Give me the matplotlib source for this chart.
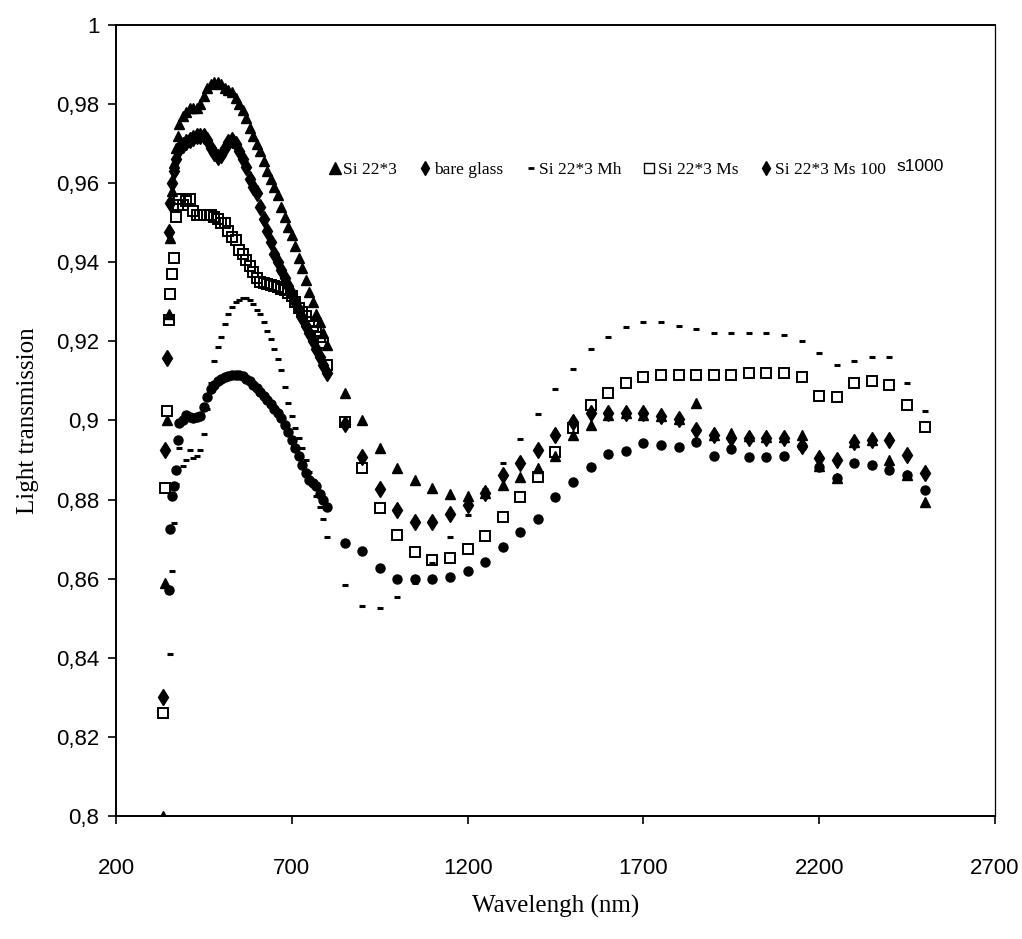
import numpy as np
import matplotlib
matplotlib.use("Agg")
import matplotlib.pyplot as plt
from matplotlib.lines import Line2D

# --- wavelengths (nm): dense scan in the UV/VIS, 50 nm steps in the NIR ---
wl_dense = [335, 340, 345, 350, 355, 360, 365, 370, 375, 380] + list(range(390, 801, 10))
wl_sparse = list(range(850, 2501, 50))

# --- light transmission ---
si22_dense = [0.800, 0.859, 0.900, 0.927, 0.946, 0.958, 0.965, 0.969, 0.972, 0.975,
              0.977, 0.978, 0.979, 0.979, 0.979, 0.980, 0.982, 0.984, 0.985, 0.9855,
              0.9855, 0.985, 0.984, 0.9835, 0.983, 0.9815, 0.980, 0.9785, 0.9765, 0.974,
              0.972, 0.970, 0.968, 0.9655, 0.963, 0.961, 0.959, 0.957, 0.954, 0.9515,
              0.949, 0.947, 0.944, 0.941, 0.9385, 0.9355, 0.9325, 0.930, 0.927, 0.925,
              0.922, 0.919]
si22_sparse = [0.907, 0.900, 0.893, 0.888, 0.885, 0.883, 0.8814, 0.881, 0.8817, 0.8837,
               0.8858, 0.8879, 0.891, 0.8963, 0.8988, 0.9015, 0.9018, 0.9015, 0.901, 0.9003,
               0.9045, 0.8963, 0.8967, 0.896, 0.8959, 0.8959, 0.8963, 0.8885, 0.8855, 0.8946,
               0.895, 0.890, 0.8862, 0.8795]

glass_dense = [0.830, 0.8925, 0.9157, 0.9477, 0.955, 0.960, 0.963, 0.966, 0.968, 0.969,
               0.9697, 0.9705, 0.971, 0.9715, 0.972, 0.972, 0.972, 0.971, 0.969, 0.9675,
               0.9667, 0.967, 0.969, 0.9705, 0.971, 0.970, 0.968, 0.966, 0.964, 0.961,
               0.959, 0.9575, 0.954, 0.951, 0.948, 0.945, 0.942, 0.940, 0.938, 0.936,
               0.934, 0.932, 0.930, 0.928, 0.926, 0.924, 0.922, 0.920, 0.918, 0.916,
               0.914, 0.912]
glass_sparse = [0.899, 0.8908, 0.8826, 0.8774, 0.8742, 0.8742, 0.8764, 0.8786, 0.8817, 0.8862,
                0.8892, 0.8925, 0.8963, 0.8997, 0.9018, 0.9018, 0.9018, 0.9018, 0.901, 0.9003,
                0.8976, 0.8963, 0.8955, 0.8955, 0.8955, 0.8955, 0.8935, 0.8904, 0.890, 0.8946,
                0.895, 0.895, 0.8913, 0.8868]

mh_dense = [np.nan, np.nan, np.nan, np.nan, 0.841, 0.862, 0.874, 0.884, 0.8955, 0.893,
            0.8885, 0.890, 0.8925, 0.8905, 0.891, 0.8925, 0.8965, 0.903, 0.9094, 0.915,
            0.9185, 0.921, 0.9245, 0.927, 0.9288, 0.930, 0.9305, 0.931, 0.931, 0.9305,
            0.9295, 0.928, 0.927, 0.925, 0.9225, 0.9205, 0.918, 0.9155, 0.9128, 0.9085,
            0.9045, 0.901, 0.898, 0.8955, 0.893, 0.890, 0.887, 0.884, 0.881, 0.878,
            0.875, 0.8705]
mh_sparse = [0.8584, 0.8531, 0.8525, 0.8553, 0.859, 0.864, 0.8706, 0.876, 0.8826, 0.8892,
             0.8952, 0.9016, 0.9079, 0.913, 0.918, 0.921, 0.9235, 0.925, 0.925, 0.924,
             0.923, 0.922, 0.922, 0.922, 0.922, 0.9215, 0.920, 0.917, 0.914, 0.915,
             0.916, 0.916, 0.9095, 0.9024]

ms_dense = [0.826, 0.883, 0.9025, 0.9255, 0.932, 0.937, 0.941, 0.9515, 0.9545, 0.956,
            0.9545, 0.9555, 0.956, 0.953, 0.952, 0.952, 0.952, 0.952, 0.952, 0.9515,
            0.951, 0.950, 0.9498, 0.948, 0.9465, 0.9455, 0.943, 0.942, 0.9405, 0.939,
            0.9375, 0.936, 0.935, 0.9347, 0.9345, 0.9343, 0.934, 0.9337, 0.9333, 0.933,
            0.9323, 0.9315, 0.930, 0.9285, 0.9275, 0.9265, 0.925, 0.924, 0.9225, 0.921,
            0.9195, 0.914]
ms_sparse = [0.8995, 0.8879, 0.8778, 0.871, 0.8668, 0.8647, 0.8653, 0.8674, 0.8708, 0.8757,
             0.8806, 0.8858, 0.8921, 0.898, 0.9039, 0.9069, 0.9094, 0.911, 0.9115, 0.9115,
             0.9115, 0.9115, 0.9115, 0.912, 0.912, 0.912, 0.911, 0.9062, 0.906, 0.9094,
             0.910, 0.909, 0.9039, 0.8984]

ms100_dense = [np.nan, np.nan, np.nan, 0.8571, 0.8725, 0.881, 0.8833, 0.8875, 0.8951, 0.8993,
               0.9000, 0.9014, 0.9008, 0.9005, 0.9008, 0.901, 0.9035, 0.906, 0.908, 0.909,
               0.910, 0.9105, 0.911, 0.9112, 0.9115, 0.9115, 0.9114, 0.9112, 0.9106, 0.9099,
               0.909, 0.9081, 0.9072, 0.9062, 0.9052, 0.9041, 0.903, 0.9018, 0.9005, 0.8989,
               0.897, 0.895, 0.893, 0.891, 0.8888, 0.8866, 0.885, 0.8842, 0.8833, 0.8815,
               0.8799, 0.8782]
ms100_sparse = [0.869, 0.867, 0.8626, 0.8598, 0.8598, 0.8598, 0.8605, 0.862, 0.8643, 0.8681,
                0.8717, 0.8751, 0.8806, 0.8845, 0.8883, 0.8915, 0.8923, 0.8942, 0.8938, 0.8932,
                0.8946, 0.891, 0.8929, 0.8908, 0.8907, 0.891, 0.8935, 0.8882, 0.8854, 0.8893,
                0.8888, 0.8875, 0.8862, 0.8824]

legend_labels = ["Si 22*3", "bare glass", "Si 22*3 Mh", "Si 22*3 Ms", "Si 22*3 Ms 100"]
x_ticks = [200, 700, 1200, 1700, 2200, 2700]
y_ticks = [0.8, 0.82, 0.84, 0.86, 0.88, 0.9, 0.92, 0.94, 0.96, 0.98, 1.0]
y_tick_labels = ["0,8", "0,82", "0,84", "0,86", "0,88", "0,9", "0,92", "0,94", "0,96", "0,98", "1"]

wl = np.array(wl_dense + wl_sparse)

serif = ["Liberation Serif", "DejaVu Serif"]
sans = ["Liberation Sans Narrow", "Liberation Sans", "DejaVu Sans"]

fig = plt.figure(figsize=(10.22, 9.39), dpi=100)
ax = fig.add_axes([0.1135, 0.131, 0.860, 0.8425])

# one style per series (black & white scan look)
ax.plot(wl, si22_dense + si22_sparse, linestyle="none", marker="^", ms=7.5,
        color="black", mec="black")
ax.plot(wl, glass_dense + glass_sparse, linestyle="none", marker="d", ms=8,
        color="black", mec="black")
ax.plot(wl, mh_dense + mh_sparse, linestyle="none", marker="_", ms=4.5, mew=2.2,
        color="black")
ax.plot(wl, ms_dense + ms_sparse, linestyle="none", marker="s", ms=6.5,
        mfc="none", mec="black", mew=1.4)
ax.plot(wl, ms100_dense + ms100_sparse, linestyle="none", marker="o", ms=6.5,
        color="black", mec="black")

ax.set_xlim(200, 2700)
ax.set_ylim(0.8, 1.0)
ax.set_xticks(x_ticks)
ax.set_xticklabels([str(t) for t in x_ticks], family=sans, fontsize=16)
ax.set_yticks(y_ticks)
ax.set_yticklabels(y_tick_labels, family=sans, fontsize=16)
ax.tick_params(axis="y", direction="out", length=6, width=1.2, pad=6)
ax.tick_params(axis="x", direction="out", length=6, width=1.2, pad=24)

for side in ["left", "bottom", "top"]:
    ax.spines[side].set_linewidth(1.4)
ax.spines["right"].set_linewidth(0.9)
ax.spines["right"].set_linestyle((0, (5, 1)))

ax.set_xlabel("Wavelengh (nm)", family=serif, fontsize=18, labelpad=12)
ax.set_ylabel("Light transmission", family=serif, fontsize=18, labelpad=12)

# legend inside the plot, single row, no frame
handles = [
    Line2D([], [], linestyle="none", marker="^", ms=8, color="black"),
    Line2D([], [], linestyle="none", marker="d", ms=7, color="black"),
    Line2D([], [], linestyle="none", marker="_", ms=5, mew=2, color="black"),
    Line2D([], [], linestyle="none", marker="s", ms=6.5, mfc="none", mec="black", mew=1),
    Line2D([], [], linestyle="none", marker="d", ms=7, color="black"),
]
leg = ax.legend(handles, legend_labels, loc="center left", bbox_to_anchor=(0.225, 0.817),
                ncol=5, frameon=False, handlelength=0.6, handletextpad=0.2,
                columnspacing=1.3, prop={"family": serif, "size": 12.5})
ax.text(0.915, 0.821, "s1000", transform=ax.transAxes, ha="center", va="center",
        family=sans, fontsize=12.5)

fig.savefig("out.png", dpi=100)
